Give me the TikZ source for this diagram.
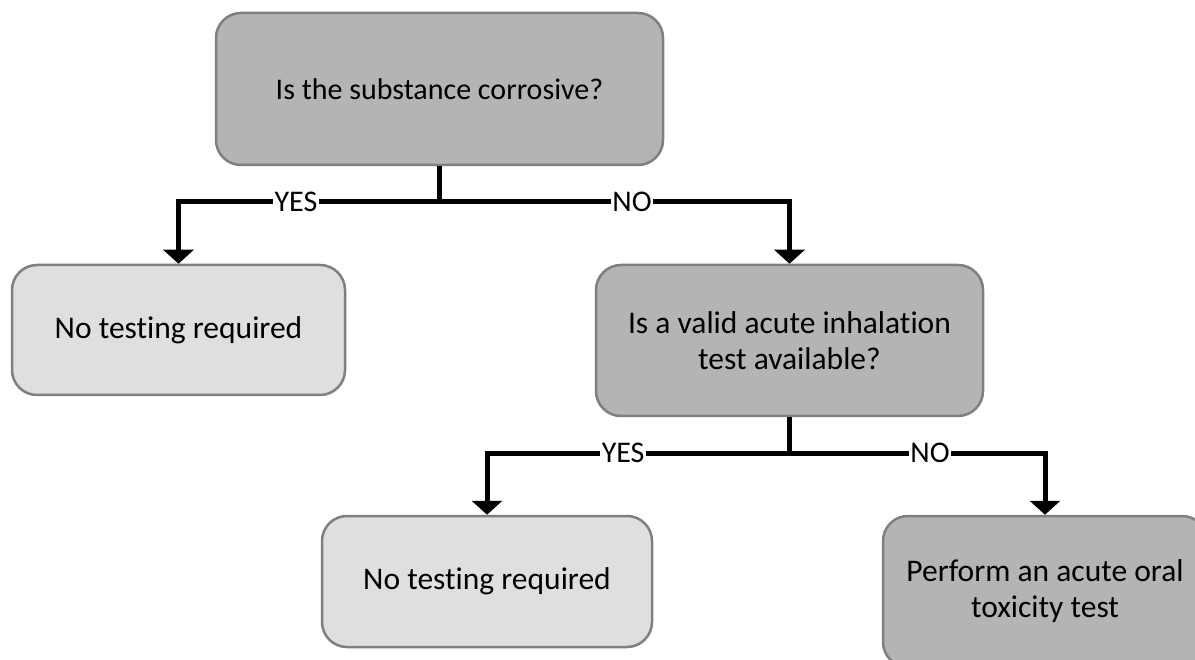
\documentclass[tikz,border=0pt]{standalone}
\usepackage{fontspec}
\setmainfont{Carlito}[Ligatures=NoCommon]
\usetikzlibrary{arrows.meta}
\definecolor{boxdark}{HTML}{B4B4B4}
\definecolor{boxlight}{HTML}{DFDFDF}
\definecolor{boxline}{HTML}{7F7F7F}
\begin{document}
\begin{tikzpicture}[x=1pt,y=-1pt,
  box/.style={draw=boxline, line width=2.5pt, rounded corners=25pt, align=center,
    inner sep=0pt, font=\fontsize{31.5}{36}\selectfont},
  askbox/.style={box, fill=boxdark},
  endbox/.style={box, fill=boxlight},
  link/.style={line width=5pt, black},
  arr/.style={link, -{Triangle[width=30pt,length=14pt]}},
  ans/.style={fill=white, inner xsep=1.5pt, inner ysep=1pt, pos=0.275,
    font=\fontsize{30}{30}\selectfont}]
  \useasboundingbox (0,0) rectangle (1195,660);
  \clip (0,0) rectangle (1195,660);
  % first question
  \node[askbox, minimum width=447pt, minimum height=152pt,
    font=\fontsize{30}{36}\selectfont] (q1) at (439.5,89)
    {Is the substance corrosive?};
  \node[endbox, minimum width=333pt, minimum height=130pt] (none1) at (178.5,330)
    {No testing required};
  \node[askbox, minimum width=387pt, minimum height=151pt] (q2) at (789.5,340.5)
    {Is a valid acute inhalation\\test available?};
  % second question
  \node[endbox, minimum width=330pt, minimum height=131pt] (none2) at (487,581.5)
    {No testing required};
  \node[askbox, minimum width=324pt, minimum height=151pt] (oral) at (1045,591.5)
    {Perform an acute oral\\toxicity test};
  \coordinate (j1) at (439.5,202);
  \coordinate (j2) at (789.5,453);
  \draw[link] (q1.south) -- (j1);
  \draw[arr] (j1) -| node[ans] {YES} (none1.north);
  \draw[arr] (j1) -| node[ans] {NO} (q2.north);
  \draw[link] (q2.south) -- (j2);
  \draw[arr] (j2) -| node[ans] {YES} (none2.north);
  \draw[arr] (j2) -| node[ans] {NO} (oral.north);
\end{tikzpicture}
\end{document}
